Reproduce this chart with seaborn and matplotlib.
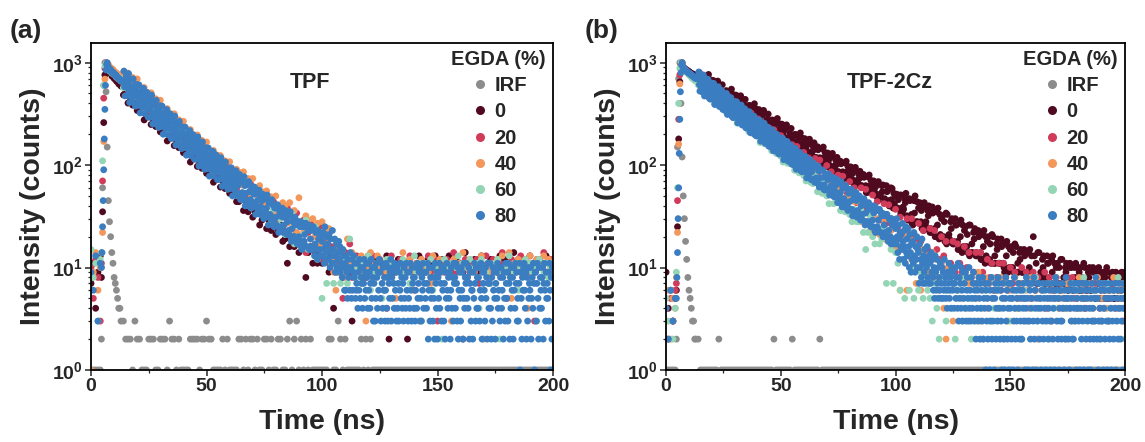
import sys
import numpy as np
import pandas as pd
import matplotlib
matplotlib.use("Agg")
import matplotlib.pyplot as plt
import seaborn as sns
from matplotlib.lines import Line2D
from matplotlib.ticker import MultipleLocator, LogLocator, NullFormatter

# ---------------- data (counts) ----------------
# channel times (ns): standard grid for IRF / 0 / 20 / 40 / 60
T_STD = [0, 1, 2, 3, 4] + [4.5 + 0.5 * i for i in range(18)] + list(range(14, 201))
# the 80 % series is drawn on top and is read on a finer grid
T_BLUE = ([0, 1, 2, 3, 4] + [4.5 + 0.25 * i for i in range(35)]
          + [14 + 0.5 * i for i in range(172)] + [100 + 0.25 * i for i in range(401)])
T_Q = [14.25 + 0.5 * i for i in range(172)]   # extra 80 % channels in the decay
T_H = [14.5 + i for i in range(186)]          # extra channels for the dense 0 % cloud in (b)
T_H2 = [14.25 + i for i in range(186)]

LABELS = ["IRF", "0", "20", "40", "60", "80"]
COLORS = ["#8c8c8c", "#4f0a1f", "#d13b5a", "#f4975b", "#93d5b5", "#3b7dc1"]
PANEL_TITLES = ["TPF", "TPF-2Cz"]
PANEL_TAGS = ["(a)", "(b)"]
X_TICKS = [0, 50, 100, 150, 200]
Y_TICKS = [1, 10, 100, 1000]
Y_TICK_LABELS = [r"$\mathbf{10^{0}}$", r"$\mathbf{10^{1}}$", r"$\mathbf{10^{2}}$", r"$\mathbf{10^{3}}$"]

# ---- panel (a): TPF ----
A_IRF = [1, 1, 1, 1, 1,
         2, 60, 600, 1000, 520, 150, 45, 28, 20, 14, 11, 8, 7, 6, 5, 4, 4, 3,
         3, 2, 2, 2, 1, 3, 2, 2, 1, 1,
         1, 2, 2, 2, 1, 1, 2, 2, 2, 1,
         3, 2, 2, 1, 2, 1, 1, 1, 1, 2,
         2, 2, 2, 1, 2, 2, 3, 2, 2, 1,
         1, 1, 1, 2, 1, 2, 1, 1, 1, 1,
         2, 2, 1, 2, 1, 2, 2, 1, 2, 1,
         1, 2, 2, 1, 2, 1, 1, 2, 2, 1,
         1, 2, 3, 1, 2, 3, 1, 2, 1, 2,
         1, 2, 1, 1, 1, 1, 1, 1, 1, 2,
         2, 1, 1, 3, 2, 1, 2, 1, 1, 1,
         1, 1, 1, 2, 1, 2, 1, 2, 1, 1,
         1, 1, 1, 1, 1, 1, 1, 1, 1, 1,
         1, 1, 1, 1, 1, 1, 1, 1, 1, 1,
         1, 1, 1, 1, 1, 1, 1, 1, 1, 1,
         1, 1, 1, 1, 1, 1, 1, 1, 1, 1,
         1, 1, 1, 1, 1, 1, 1, 1, 1, 1,
         1, 1, 1, 1, 1, 1, 1, 1, 1, 1,
         1, 1, 1, 1, 1, 1, 1, 1, 1, 1,
         1, 1, 1, 1, 1, 1, 1]

A_0 = [7, 11, 4, 9, 13,
       8, 35, 260, 760, 980, 930, 850, 800, 790, 740, 730, 700, 690, 660, 650, 620, 610, 590,
       484, 515, 403, 452, 385, 447, 341, 358, 371, 276,
       299, 319, 249, 280, 238, 277, 211, 222, 231, 172,
       186, 198, 155, 174, 148, 172, 132, 138, 143, 107,
       116, 124, 97, 109, 93, 108, 83, 87, 91, 68,
       73, 78, 61, 70, 59, 69, 53, 55, 58, 44,
       44, 50, 36, 44, 35, 45, 31, 35, 39, 26,
       29, 33, 24, 29, 23, 30, 21, 23, 26, 18,
       19, 11, 16, 19, 16, 20, 14, 17, 18, 8,
       14, 16, 11, 14, 11, 15, 11, 12, 13, 9,
       11, 4, 13, 9, 12, 8, 14, 10, 9, 3,
       10, 12, 9, 11, 8, 10, 13, 9, 11, 10,
       12, 9, 10, 11, 13, 2, 10, 9, 11, 12,
       9, 11, 10, 2, 12, 10, 9, 11, 13, 10,
       11, 9, 12, 10, 11, 13, 9, 10, 12, 11,
       10, 13, 9, 11, 12, 10, 11, 9, 14, 10,
       11, 10, 12, 9, 11, 13, 10, 9, 11, 12,
       10, 11, 9, 13, 10, 12, 11, 10, 9, 14,
       11, 12, 10, 9, 11, 10, 13, 11, 9, 10,
       12, 10, 11, 13, 9, 11, 10]

A_20 = [10, 5, 12, 8, 3,
        11, 70, 450, 880, 1000, 950, 930, 880, 870, 850, 820, 800, 790, 760, 760, 730, 720, 700,
        679, 739, 540, 643, 533, 620, 460, 508, 519, 377,
        420, 457, 334, 398, 330, 384, 285, 315, 322, 234,
        260, 284, 208, 247, 205, 239, 178, 196, 201, 146,
        163, 178, 130, 155, 129, 150, 111, 123, 126, 92,
        103, 113, 82, 99, 82, 95, 71, 79, 81, 59,
        68, 77, 49, 66, 50, 66, 43, 54, 56, 35,
        44, 51, 32, 44, 33, 44, 29, 36, 38, 24,
        31, 38, 21, 33, 22, 34, 17, 26, 29, 14,
        22, 27, 15, 24, 16, 25, 12, 19, 21, 11,
        16, 12, 9, 15, 11, 5, 14, 10, 17, 8,
        11, 13, 9, 10, 12, 8, 11, 10, 13, 9,
        10, 12, 11, 9, 4, 10, 13, 11, 9, 10,
        12, 10, 9, 11, 13, 10, 6, 11, 9, 12,
        10, 11, 13, 9, 10, 12, 3, 11, 10, 9,
        12, 10, 11, 14, 9, 10, 11, 2, 12, 10,
        9, 11, 10, 12, 7, 11, 10, 13, 9, 11,
        12, 10, 9, 11, 14, 10, 5, 11, 12, 10,
        9, 11, 13, 10, 12, 9, 11, 10, 3, 12,
        11, 10, 14, 9, 11, 12, 10]

A_40 = [1, 9, 14, 6, 10,
        10, 22, 170, 690, 960, 990, 960, 910, 890, 870, 860, 820, 810, 790, 770, 760, 740, 720,
        800, 703, 790, 676, 717, 558, 694, 569, 517, 572,
        515, 436, 508, 419, 444, 346, 430, 353, 321, 355,
        319, 271, 317, 260, 276, 215, 268, 220, 200, 222,
        199, 169, 197, 164, 174, 136, 168, 138, 125, 139,
        127, 108, 124, 104, 110, 85, 108, 88, 81, 91,
        85, 64, 86, 65, 74, 52, 74, 57, 50, 63,
        55, 43, 56, 44, 49, 35, 50, 37, 34, 43,
        40, 27, 43, 28, 36, 22, 48, 27, 22, 32,
        29, 19, 30, 20, 27, 17, 28, 20, 17, 24,
        12, 9, 6, 16, 10, 13, 8, 19, 11, 14,
        12, 10, 9, 13, 11, 3, 10, 14, 8, 11,
        13, 10, 11, 6, 9, 12, 10, 11, 5, 10,
        11, 14, 9, 10, 12, 9, 4, 11, 10, 12,
        10, 11, 9, 7, 13, 10, 11, 12, 9, 10,
        11, 9, 3, 12, 10, 11, 9, 14, 10, 8,
        12, 10, 9, 11, 10, 13, 2, 10, 11, 9,
        11, 10, 12, 9, 13, 10, 9, 14, 5, 11,
        10, 12, 9, 11, 10, 4, 13, 11, 9, 12,
        10, 11, 13, 9, 12, 10, 11]

A_60 = [15, 8, 11, 3, 12,
        14, 110, 600, 930, 990, 900, 880, 830, 850, 790, 800, 760, 770, 720, 730, 690, 700, 660,
        569, 690, 558, 660, 453, 533, 557, 416, 440, 503,
        352, 427, 345, 408, 281, 331, 345, 257, 273, 312,
        218, 265, 215, 254, 174, 206, 215, 160, 170, 194,
        136, 166, 134, 159, 110, 129, 135, 101, 107, 122,
        86, 105, 85, 101, 70, 82, 86, 65, 69, 79,
        52, 72, 52, 69, 41, 55, 59, 40, 45, 55,
        34, 48, 34, 46, 27, 37, 40, 26, 30, 37,
        21, 35, 22, 34, 17, 26, 28, 18, 21, 29,
        15, 25, 16, 25, 12, 19, 5, 13, 7, 21,
        11, 7, 18, 9, 7, 15, 12, 7, 19, 10,
        10, 8, 12, 7, 11, 9, 13, 6, 10, 9,
        11, 9, 5, 10, 12, 8, 11, 10, 4, 9,
        10, 12, 9, 11, 7, 10, 13, 9, 11, 3,
        11, 9, 10, 12, 6, 10, 11, 9, 2, 12,
        10, 9, 11, 8, 10, 13, 9, 11, 5, 10,
        12, 9, 10, 11, 4, 12, 10, 9, 11, 7,
        10, 11, 12, 2, 9, 10, 11, 13, 10, 9,
        11, 6, 10, 9, 12, 10, 11, 9, 10, 3,
        12, 10, 9, 11, 8, 10, 11]

A_80 = [9, 6, 13, 3, 11,
        10, 14, 25, 45, 90, 180, 350, 600, 850, 960, 1000, 940, 900, 880, 860, 870, 830, 840,
        810, 800, 790, 800, 770, 760, 750, 760, 740, 720, 720, 705, 700, 690, 690, 670, 660,
        660, 581, 653, 571, 634, 516, 576, 513, 586, 499,
        472, 531, 469, 520, 416, 469, 418, 482, 385, 430,
        412, 355, 415, 353, 385, 319, 384, 324, 307, 345,
        299, 338, 276, 305, 309, 252, 276, 250, 291, 244,
        260, 225, 261, 219, 206, 235, 209, 235, 185, 206,
        184, 208, 191, 164, 196, 167, 156, 176, 180, 150,
        161, 136, 163, 140, 131, 149, 128, 148, 117, 130,
        118, 132, 108, 120, 122, 99, 109, 98, 114, 95,
        104, 86, 103, 87, 91, 80, 96, 81, 74, 86,
        73, 83, 75, 66, 81, 67, 72, 61, 73, 63,
        68, 53, 69, 54, 51, 63, 53, 64, 45, 55,
        46, 58, 42, 52, 53, 40, 45, 37, 50, 39,
        45, 34, 47, 35, 38, 32, 43, 33, 31, 41,
        29, 38, 31, 38, 25, 32, 35, 24, 31, 26,
        33, 22, 28, 23, 33, 20, 24, 28, 20, 26,
        19, 28, 20, 25, 16, 27, 18, 21, 27, 16,
        23, 15, 19, 16, 24, 15, 17, 22, 12, 19,
        15, 20,
        18, 13, 22, 15, 11, 25, 16, 12, 20, 14,
        17, 12, 21, 14, 10, 19, 15, 11, 23, 13,
        15, 11, 19, 9, 13, 17, 10, 14, 12, 18,
        12, 16, 9, 14, 11, 8, 15, 10, 13, 6,
        11, 6, 13, 9, 5, 12, 8, 10, 6, 14,
        10, 5, 12, 6, 9, 13, 8, 11, 5, 6,
        7, 11, 4, 9, 6, 12, 5, 10, 8, 7,
        4, 10, 7, 12, 5, 9, 6, 11, 8, 4,
        11, 6, 9, 4, 7, 12, 5, 10, 8, 3,
        7, 10, 3, 5, 11, 8, 4, 9, 6, 12,
        9, 5, 3, 11, 7, 4, 10, 6, 8, 3,
        6, 11, 4, 8, 3, 10, 7, 5, 9, 12,
        3, 8, 5, 10, 7, 4, 11, 6, 9, 3,
        10, 4, 7, 3, 9, 6, 11, 5, 8, 4,
        7, 3, 10, 5, 8, 4, 11, 6, 9, 3,
        5, 9, 4, 11, 6, 3, 10, 7, 8, 4,
        8, 3, 6, 10, 4, 11, 5, 7, 9, 3,
        10, 5, 3, 8, 6, 11, 4, 7, 9, 5,
        9, 4, 7, 11, 2, 6, 10, 3, 8, 5,
        6, 10, 3, 8, 5, 2, 11, 7, 4, 9,
        2, 8, 5, 11, 4, 9, 7, 3, 10, 6,
        10, 3, 7, 2, 9, 5, 11, 6, 4, 8,
        5, 9, 2, 6, 10, 4, 8, 3, 11, 7,
        8, 4, 11, 7, 3, 10, 2, 6, 9, 5,
        3, 10, 6, 9, 2, 5, 11, 4, 8, 7,
        11, 5, 8, 4, 10, 2, 7, 9, 3, 6,
        6, 2, 9, 5, 11, 7, 3, 10, 4, 8,
        4, 8, 10, 3, 6, 11, 5, 2, 9, 7,
        9, 6, 3, 10, 5, 8, 2, 11, 7, 4,
        7, 11, 4, 2, 8, 3, 10, 6, 9, 5,
        2, 7, 9, 5, 11, 4, 6, 10, 3, 8,
        10, 4, 6, 8, 2, 9, 5, 3, 11, 7,
        5, 9, 3, 11, 7, 2, 8, 4, 10, 6,
        8, 2, 10, 6, 4, 11, 7, 9, 3, 5,
        3, 7, 11, 1, 9, 5, 2, 8, 6, 10,
        11, 6, 4, 9, 2, 8, 3, 10, 5, 7,
        6, 10, 2, 5, 8, 4, 11, 7, 1, 9,
        9, 3, 7, 11, 5, 2, 10, 4, 8, 6,
        4, 8, 10, 2, 7, 11, 6, 3, 9, 5,
        7, 5, 9, 3, 11, 6, 1, 8, 2, 10,
        8]

A_80X = [828, 474, 739, 476, 781, 408, 682, 453, 693, 401,
         376, 613, 382, 607, 323, 526, 365, 561, 318, 493,
         512, 293, 457, 294, 483, 252, 422, 280, 429, 248,
         233, 380, 237, 377, 200, 326, 227, 348, 198, 306,
         317, 182, 284, 183, 301, 157, 262, 174, 267, 154,
         145, 236, 148, 235, 125, 203, 141, 217, 123, 191,
         198, 114, 178, 114, 188, 98, 165, 109, 168, 97,
         91, 148, 92, 147, 78, 128, 89, 136, 78, 120,
         125, 72, 113, 73, 118, 62, 105, 70, 107, 62,
         58, 94, 59, 94, 50, 82, 57, 88, 50, 78,
         81, 46, 72, 46, 77, 40, 67, 45, 69, 40,
         38, 62, 39, 61, 33, 54, 37, 57, 33, 51,
         52, 30, 48, 31, 51, 26, 45, 30, 46, 26,
         25, 41, 26, 41, 22, 35, 25, 38, 22, 34,
         36, 21, 32, 21, 35, 18, 31, 20, 31, 18,
         17, 28, 18, 28, 15, 25, 18, 27, 16, 24,
         26, 15, 23, 15, 25, 13, 22, 15, 23, 13,
         13, 21]

# ---- panel (b): TPF-2Cz ----
B_IRF = [1, 1, 1, 1, 1,
         2, 150, 700, 1000, 400, 120, 50, 30, 18, 12, 8, 6, 5, 4, 3, 3, 2, 2,
         2, 1, 1, 1, 1, 1, 1, 1, 1, 2,
         1, 1, 1, 1, 1, 1, 1, 1, 1, 1,
         1, 1, 1, 1, 1, 1, 1, 1, 1, 1,
         1, 1, 1, 2, 1, 1, 1, 1, 1, 1,
         1, 2, 1, 1, 1, 1, 1, 1, 1, 1,
         1, 1, 1, 2, 1, 1, 1, 1, 1, 1,
         1, 1, 1, 1, 1, 1, 1, 1, 1, 1,
         1, 1, 1, 1, 1, 1, 1, 1, 1, 1,
         1, 1, 1, 1, 1, 1, 1, 1, 1, 1,
         1, 1, 1, 1, 1, 1, 1, 1, 1, 1,
         1, 1, 1, 1, 1, 1, 1, 1, 1, 1,
         1, 1, 1, 1, 1, 1, 1, 1, 1, 1,
         1, 1, 1, 1, 1, 1, 1, 1, 1, 1,
         1, 1, 1, 1, 1, 1, 1, 1, 1, 1,
         1, 1, 1, 1, 1, 1, 1, 1, 1, 1,
         1, 1, 1, 1, 1, 1, 1, 1, 1, 1,
         1, 1, 1, 1, 1, 1, 1, 1, 1, 1,
         1, 1, 1, 1, 1, 1, 1, 1, 1, 1,
         1, 1, 1, 1, 1, 1, 1]

B_0 = [9, 4, 6, 3, 5,
       6, 25, 180, 650, 960, 1000, 900, 880, 860, 850, 830, 820, 800, 790, 775, 770, 750, 740,
       754, 645, 739, 631, 704, 547, 607, 542, 595, 490,
       542, 464, 531, 453, 506, 393, 436, 389, 428, 352,
       390, 334, 382, 326, 364, 284, 314, 280, 308, 254,
       280, 241, 275, 235, 262, 204, 227, 202, 222, 183,
       203, 174, 199, 170, 189, 148, 164, 146, 161, 132,
       154, 119, 151, 118, 145, 101, 122, 101, 121, 91,
       111, 86, 109, 86, 105, 74, 89, 73, 88, 66,
       81, 63, 81, 63, 77, 54, 65, 54, 65, 49,
       63, 43, 63, 45, 60, 38, 50, 38, 51, 35,
       47, 32, 47, 33, 45, 28, 38, 28, 39, 26,
       36, 22, 39, 24, 35, 19, 30, 20, 34, 19,
       28, 17, 30, 18, 27, 14, 23, 16, 26, 14,
       22, 13, 23, 14, 21, 11, 18, 12, 21, 11,
       17, 11, 19, 11, 17, 9, 15, 10, 17, 9,
       14, 9, 15, 9, 14, 7, 20, 8, 14, 8,
       12, 7, 13, 8, 12, 6, 10, 7, 12, 7,
       10, 6, 11, 7, 10, 5, 9, 6, 11, 6,
       9, 6, 10, 5, 9, 5, 8, 6, 10, 5,
       8, 5, 9, 6, 8, 7, 9]

B_0X = [800, 590, 739, 520, 767, 547, 671, 473, 661, 469,
        609, 424, 531, 374, 551, 393, 482, 339, 475, 337,
        438, 305, 382, 269, 397, 284, 348, 245, 342, 243,
        315, 220, 275, 194, 285, 204, 251, 177, 247, 175,
        228, 159, 199, 140, 206, 148, 181, 128, 179, 127,
        165, 115, 144, 102, 150, 107, 131, 93, 130, 92,
        119, 83, 105, 74, 109, 78, 96, 67, 95, 67,
        87, 61, 77, 54, 80, 57, 70, 50, 69, 49,
        64, 45, 56, 40, 59, 42, 52, 37, 51, 37,
        53, 29, 46, 26, 50, 28, 43, 24, 43, 24,
        40, 22, 35, 20, 38, 21, 32, 18, 33, 19,
        30, 17, 26, 15, 29, 16, 25, 14, 26, 14,
        24, 13, 21, 12, 23, 13, 20, 11, 20, 11,
        19, 11, 17, 9, 18, 10, 16, 9, 16, 9,
        15, 9, 14, 8, 15, 9, 13, 7, 14, 8,
        13, 7, 11, 7, 13, 7, 11, 6, 12, 7,
        11, 6, 10, 6, 11, 6, 10, 6, 10, 6,
        10, 6, 9, 5, 10, 6, 9, 5, 9, 5,
        9, 5, 8, 5, 9, 5]

B_0Q = [718, 611, 726, 520, 598, 681, 495, 587, 430, 496,
        516, 439, 522, 374, 429, 489, 355, 421, 309, 356,
        371, 316, 375, 269, 309, 353, 256, 304, 222, 257,
        267, 228, 270, 194, 222, 254, 185, 219, 161, 185,
        193, 165, 195, 140, 161, 184, 134, 159, 116, 134,
        140, 119, 141, 102, 117, 133, 97, 115, 84, 98,
        101, 86, 103, 74, 85, 97, 71, 83, 62, 71,
        74, 63, 76, 54, 62, 71, 52, 61, 45, 52,
        55, 47, 55, 40, 46, 53, 38, 46, 33, 39,
        43, 31, 45, 27, 34, 44, 27, 36, 23, 28,
        32, 24, 34, 20, 26, 33, 20, 28, 17, 21,
        24, 18, 26, 15, 20, 26, 16, 21, 13, 17,
        19, 14, 20, 12, 16, 20, 12, 17, 11, 13,
        15, 11, 16, 10, 13, 16, 10, 14, 9, 11,
        12, 9, 13, 8, 10, 13, 8, 11, 7, 9,
        10, 8, 11, 7, 9, 11, 7, 10, 6, 8,
        9, 7, 10, 6, 8, 10, 6, 8, 5, 7,
        8, 6, 9, 5, 7, 9, 5, 8, 5, 6,
        7, 5, 8, 5, 6, 8]

B_20 = [4, 2, 5, 3, 6,
        7, 45, 280, 760, 990, 970, 910, 870, 840, 830, 800, 790, 770, 760, 740, 730, 710, 700,
        657, 719, 577, 691, 593, 531, 605, 513, 534, 441,
        448, 490, 393, 472, 405, 363, 414, 351, 365, 302,
        307, 336, 269, 323, 277, 248, 283, 240, 250, 206,
        210, 230, 185, 221, 190, 170, 194, 165, 171, 141,
        144, 158, 127, 152, 130, 117, 133, 113, 118, 97,
        94, 116, 83, 112, 90, 76, 99, 77, 86, 62,
        65, 80, 57, 78, 63, 53, 69, 53, 60, 43,
        43, 60, 38, 58, 42, 35, 51, 36, 44, 29,
        30, 42, 27, 41, 30, 25, 37, 25, 31, 21,
        22, 30, 19, 30, 21, 18, 27, 18, 23, 15,
        15, 24, 12, 23, 15, 12, 20, 13, 18, 10,
        11, 18, 9, 17, 11, 9, 16, 10, 14, 8,
        9, 14, 7, 14, 9, 7, 12, 8, 11, 6,
        8, 11, 6, 11, 8, 6, 10, 7, 9, 5,
        7, 10, 5, 9, 7, 5, 9, 6, 8, 5,
        6, 9, 4, 8, 6, 5, 8, 5, 7, 4,
        5, 8, 4, 8, 5, 4, 7, 5, 7, 4,
        5, 7, 3, 7, 5, 4, 7, 4, 6, 3,
        5, 7, 4, 6, 5, 3, 7]

B_40 = [3, 6, 2, 5, 4,
        8, 22, 160, 620, 950, 990, 890, 860, 840, 820, 790, 770, 760, 740, 725, 710, 690, 680,
        712, 580, 691, 562, 567, 479, 573, 465, 498, 418,
        466, 380, 452, 369, 372, 313, 376, 305, 327, 274,
        306, 249, 297, 241, 244, 206, 246, 200, 214, 180,
        201, 164, 196, 160, 161, 136, 163, 132, 141, 119,
        133, 108, 129, 105, 106, 90, 108, 87, 94, 79,
        91, 68, 91, 67, 72, 56, 75, 55, 65, 50,
        61, 45, 60, 44, 48, 37, 50, 37, 44, 34,
        43, 28, 43, 28, 34, 23, 36, 24, 30, 21,
        30, 19, 30, 20, 23, 16, 25, 16, 6, 15,
        21, 6, 19, 12, 17, 7, 16, 6, 15, 11,
        13, 9, 14, 8, 12, 6, 11, 4, 2, 10,
        9, 3, 10, 6, 8, 5, 9, 4, 7, 8,
        7, 5, 9, 3, 6, 8, 4, 7, 5, 6,
        6, 4, 8, 5, 7, 3, 6, 5, 8, 4,
        5, 7, 3, 6, 4, 8, 5, 6, 2, 5,
        6, 4, 7, 5, 3, 6, 8, 4, 5, 6,
        4, 7, 5, 3, 6, 5, 8, 4, 6, 5,
        7, 5, 4, 6, 8, 3, 5, 7, 4, 6,
        5, 8, 4, 6, 5, 7, 4]

B_60 = [5, 3, 6, 2, 4,
        9, 60, 400, 880, 1000, 950, 880, 850, 820, 800, 780, 760, 740, 720, 700, 690, 670, 660,
        609, 665, 515, 568, 488, 573, 457, 399, 465, 387,
        392, 427, 332, 366, 314, 369, 294, 257, 299, 249,
        252, 275, 213, 235, 202, 238, 190, 166, 193, 161,
        163, 177, 138, 152, 130, 153, 122, 107, 125, 104,
        105, 116, 89, 98, 84, 99, 79, 70, 81, 68,
        66, 79, 55, 66, 53, 68, 50, 42, 55, 42,
        43, 51, 36, 43, 35, 44, 33, 28, 37, 28,
        28, 36, 22, 15, 22, 32, 20, 17, 25, 17,
        19, 24, 7, 19, 15, 7, 14, 11, 6, 12,
        5, 13, 6, 10, 5, 12, 6, 9, 5, 8,
        6, 5, 3, 7, 4, 2, 8, 5, 3, 6,
        4, 7, 2, 5, 6, 3, 8, 4, 5, 2,
        5, 3, 7, 4, 2, 6, 5, 3, 8, 4,
        3, 6, 4, 2, 5, 7, 3, 5, 4, 6,
        4, 2, 6, 5, 3, 7, 4, 8, 3, 5,
        6, 3, 5, 2, 7, 4, 5, 3, 6, 4,
        2, 5, 4, 7, 3, 6, 4, 5, 8, 3,
        5, 4, 6, 3, 5, 2, 7, 4, 6, 3,
        4, 6, 3, 8, 5, 4, 2]

B_80 = [4, 2, 6, 3, 5,
        5, 8, 14, 30, 60, 130, 280, 520, 800, 950, 1000, 930, 890, 885, 860, 865, 840, 845,
        825, 815, 810, 800, 790, 785, 770, 775, 760, 750, 745, 740, 730, 720, 715, 705, 700,
        690, 609, 688, 603, 672, 548, 615, 549, 630, 539,
        512, 576, 511, 568, 455, 515, 461, 532, 429, 479,
        460, 399, 468, 399, 436, 363, 438, 372, 352, 397,
        345, 391, 321, 355, 362, 295, 324, 295, 345, 289,
        311, 270, 312, 263, 248, 285, 253, 286, 226, 252,
        227, 257, 236, 203, 244, 208, 196, 220, 226, 190,
        204, 173, 207, 178, 168, 191, 164, 190, 152, 168,
        154, 173, 142, 158, 160, 130, 144, 130, 152, 126,
        138, 115, 137, 116, 122, 108, 129, 108, 99, 117,
        99, 114, 102, 90, 110, 91, 99, 84, 100, 86,
        94, 73, 96, 75, 71, 88, 75, 89, 63, 76,
        64, 80, 58, 72, 74, 57, 63, 51, 71, 56,
        64, 49, 66, 50, 54, 45, 60, 47, 44, 59,
        41, 53, 44, 55, 37, 46, 49, 34, 45, 36,
        47, 31, 40, 33, 46, 28, 34, 40, 28, 37,
        26, 39, 29, 34, 23, 38, 25, 29, 37, 22,
        32, 20, 26, 22, 33, 20, 23, 29, 17, 26,
        19, 27,
        24, 17, 30, 20, 14, 26, 19, 12, 22, 16,
        21, 15, 27, 18, 12, 23, 16, 11, 25, 14,
        19, 13, 24, 16, 10, 21, 14, 9, 17, 12,
        18, 11, 22, 13, 9, 16, 12, 20, 10, 15,
        14, 7, 17, 10, 12, 8, 19, 11, 7, 13,
        9, 15, 7, 12, 10, 16, 8, 11, 7, 13,
        11, 7, 14, 9, 12, 8, 6, 10, 5, 13,
        9, 6, 12, 7, 5, 10, 8, 6, 11, 5,
        7, 10, 5, 9, 6, 12, 7, 8, 5, 6,
        4, 9, 7, 11, 5, 6, 8, 4, 10, 7,
        6, 9, 4, 7, 10, 5, 8, 6, 4, 11,
        3, 8, 5, 7, 4, 10, 6, 3, 9, 5,
        7, 4, 9, 3, 6, 8, 5, 3, 10, 4,
        6, 3, 8, 5, 4, 7, 9, 3, 6, 5,
        2, 7, 4, 6, 3, 8, 5, 2, 7, 4,
        6, 3, 8, 2, 5, 4, 7, 1, 6, 3,
        5, 2, 7, 4, 1, 6, 3, 8, 2, 5,
        3, 6, 1, 5, 7, 2, 4, 6, 3, 8,
        7, 4, 2, 6, 3, 1, 5, 7, 4, 2,
        1, 5, 8, 3, 6, 2, 4, 7, 1, 5,
        4, 7, 2, 5, 1, 6, 3, 8, 4, 2,
        6, 3, 5, 1, 7, 4, 2, 6, 3, 5,
        2, 6, 4, 7, 3, 5, 1, 4, 8, 3,
        5, 1, 7, 3, 6, 2, 4, 5, 7, 1,
        3, 8, 2, 6, 4, 1, 5, 3, 7, 4,
        7, 2, 5, 4, 1, 6, 3, 7, 2, 5,
        4, 6, 1, 3, 7, 5, 2, 4, 6, 3,
        1, 5, 3, 7, 2, 4, 6, 1, 5, 8,
        6, 3, 7, 2, 5, 1, 4, 6, 3, 2,
        3, 7, 4, 5, 1, 6, 2, 8, 4, 5,
        5, 2, 6, 1, 4, 7, 3, 5, 2, 6,
        2, 4, 7, 3, 6, 1, 5, 4, 7, 3,
        7, 1, 4, 6, 2, 5, 3, 7, 1, 4,
        4, 6, 2, 5, 7, 3, 1, 6, 4, 2,
        1, 5, 3, 7, 4, 2, 6, 3, 5, 8,
        6, 2, 5, 1, 3, 7, 4, 2, 6, 3,
        3, 7, 1, 4, 6, 2, 5, 7, 3, 1,
        5, 3, 6, 2, 7, 4, 1, 5, 3, 6,
        2, 6, 4, 7, 1, 5, 3, 6, 2, 4,
        7, 4, 2, 5, 3, 6, 1, 4, 7, 5,
        3]

B_80X = [811, 527, 746, 519, 759, 473, 698, 496, 688, 453,
         440, 633, 443, 627, 390, 567, 417, 582, 373, 531,
         536, 349, 493, 343, 501, 312, 462, 328, 455, 299,
         290, 417, 293, 415, 258, 375, 276, 385, 246, 351,
         355, 231, 327, 227, 332, 207, 305, 217, 301, 198,
         193, 277, 194, 275, 171, 249, 183, 256, 163, 233,
         235, 153, 216, 150, 221, 138, 202, 144, 200, 132,
         128, 184, 129, 183, 113, 165, 122, 170, 109, 155,
         157, 102, 144, 100, 146, 91, 136, 96, 133, 88,
         86, 123, 86, 121, 75, 110, 81, 113, 72, 103,
         104, 68, 96, 67, 98, 61, 90, 64, 89, 58,
         57, 82, 58, 82, 51, 74, 54, 76, 49, 70,
         73, 43, 68, 43, 69, 39, 63, 42, 63, 38,
         36, 58, 37, 58, 32, 53, 35, 54, 31, 50,
         50, 29, 46, 29, 47, 26, 43, 28, 43, 26,
         25, 40, 25, 40, 22, 36, 24, 37, 22, 34,
         34, 20, 32, 20, 33, 18, 30, 20, 30, 18,
         17, 27]

PANELS = [
    [("IRF", T_STD, A_IRF), ("0", T_STD, A_0), ("20", T_STD, A_20),
     ("40", T_STD, A_40), ("60", T_STD, A_60), ("80", T_BLUE, A_80), ("80", T_Q, A_80X)],
    [("IRF", T_STD, B_IRF), ("0", T_STD, B_0), ("0", T_H, B_0X), ("0", T_H2, B_0Q),
     ("20", T_STD, B_20), ("40", T_STD, B_40), ("60", T_STD, B_60),
     ("80", T_BLUE, B_80), ("80", T_Q, B_80X)],
]


def build_frame(series):
    parts = []
    for label, t, v in series:
        n = min(len(t), len(v))
        if len(t) != len(v):
            print(f"length mismatch for {label}: {len(t)} vs {len(v)}", file=sys.stderr)
        parts.append(pd.DataFrame({"time": t[:n], "counts": v[:n], "EGDA": label}))
    return pd.concat(parts, ignore_index=True)


# ---------------- style ----------------
sns.set_style("ticks")
plt.rcParams["font.family"] = ["Liberation Sans", "DejaVu Sans"]
plt.rcParams["font.weight"] = "bold"
plt.rcParams["mathtext.fontset"] = "custom"
plt.rcParams["mathtext.rm"] = "Liberation Sans:bold"
plt.rcParams["mathtext.bf"] = "Liberation Sans:bold"
plt.rcParams["mathtext.it"] = "Liberation Sans:bold:italic"

palette = dict(zip(LABELS, COLORS))

fig = plt.figure(figsize=(11.45, 4.42), dpi=100)
axes = [fig.add_axes([0.0795, 0.163, 0.4035, 0.740]),
        fig.add_axes([0.5817, 0.163, 0.4009, 0.740])]

for k, ax in enumerate(axes):
    df = build_frame(PANELS[k])
    ax.set_yscale("log")
    sns.scatterplot(data=df, x="time", y="counts", hue="EGDA", hue_order=LABELS,
                    palette=palette, s=24, linewidth=0, edgecolor="none",
                    legend=False, ax=ax)
    ax.set_xlim(0, 200)
    ax.set_ylim(1, 1560)
    ax.set_xticks(X_TICKS)
    ax.xaxis.set_minor_locator(MultipleLocator(25))
    ax.set_yticks(Y_TICKS)
    ax.set_yticklabels(Y_TICK_LABELS)
    ax.yaxis.set_minor_locator(LogLocator(base=10, subs=np.arange(2, 10) * 1.0, numticks=20))
    ax.yaxis.set_minor_formatter(NullFormatter())
    ax.tick_params(which="major", direction="out", length=4, width=1.1, labelsize=14, pad=2)
    ax.tick_params(which="minor", direction="out", length=2.5, width=0.9)
    for sp in ax.spines.values():
        sp.set_linewidth(1.3)
        sp.set_color("black")
    ax.set_xlabel("Time (ns)", fontsize=20.5, fontweight="bold", labelpad=10)
    ax.set_ylabel("Intensity (counts)", fontsize=20.5, fontweight="bold", labelpad=4)
    ax.text(0.475 if k == 0 else 0.487, 0.878, PANEL_TITLES[k], transform=ax.transAxes,
            ha="center", va="center", fontsize=15.5, fontweight="bold")
    handles = [Line2D([0], [0], marker="o", ls="none", markerfacecolor=c,
                      markeredgecolor="none", markersize=6.5) for c in COLORS]
    ax.legend(handles, LABELS, title="EGDA (%)", loc="upper right", frameon=False,
              prop={"weight": "bold", "size": 14.5},
              title_fontproperties={"weight": "bold", "size": 14.5},
              handletextpad=0.2, handlelength=1.0, labelspacing=0.36,
              borderaxespad=0.2, borderpad=0.15)

fig.text(0.008, 0.93, PANEL_TAGS[0], fontsize=19, fontweight="bold", va="center")
fig.text(0.511, 0.93, PANEL_TAGS[1], fontsize=19, fontweight="bold", va="center")

fig.savefig("out.png", dpi=100)
